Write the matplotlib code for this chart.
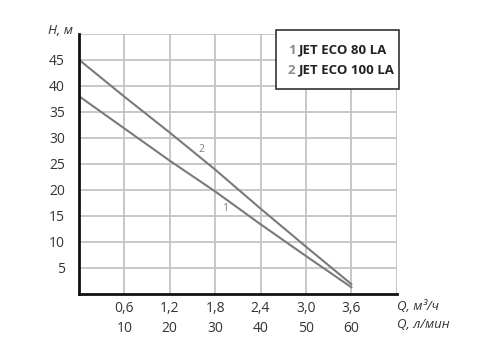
import matplotlib
matplotlib.use("Agg")
import matplotlib.pyplot as plt
from matplotlib.patches import Rectangle

plt.rcParams['font.family'] = ['Open Sans', 'DejaVu Sans']

q_m3h = [0.0, 0.6, 1.2, 1.8, 2.4, 3.0, 3.6]
head_80 = [38.0, 31.8, 25.6, 19.7, 13.4, 7.3, 1.3]
head_100 = [45.0, 37.9, 31.0, 23.9, 16.4, 9.1, 1.9]
x_ticks = [0.6, 1.2, 1.8, 2.4, 3.0, 3.6]
x_labels_m3h = ["0,6", "1,2", "1,8", "2,4", "3,0", "3,6"]
x_labels_lmin = ["10", "20", "30", "40", "50", "60"]
y_ticks = [5, 10, 15, 20, 25, 30, 35, 40, 45]
legend_names = ["JET ECO 80 LA", "JET ECO 100 LA"]

fig = plt.figure(figsize=(4.93, 3.41), dpi=100)
ax = fig.add_axes([0.1602, 0.1378, 0.8047 - 0.1602, 0.9012 - 0.1378])

ax.set_xlim(0, 4.2)
ax.set_ylim(0, 50)

grid_c = '#c4c4c4'
for xv in x_ticks + [4.2]:
    ax.axvline(xv, color=grid_c, lw=1.3, zorder=1)
for yv in y_ticks + [50]:
    ax.axhline(yv, color=grid_c, lw=1.3, zorder=1)

line_c = '#7a7a7a'
ax.plot(q_m3h, head_80, color=line_c, lw=1.5, zorder=3)
ax.plot(q_m3h, head_100, color=line_c, lw=1.5, zorder=3)

ax.text(1.625, 27.8, "2", color='#808080', fontsize=7.5, ha='center', va='center')
ax.text(1.925, 16.5, "1", color='#808080', fontsize=7.5, ha='center', va='center')

for s in ['top', 'right']:
    ax.spines[s].set_visible(False)
for s in ['left', 'bottom']:
    ax.spines[s].set_color('#111111')
    ax.spines[s].set_linewidth(2.0)
    ax.spines[s].set_zorder(4)

ax.set_xticks(x_ticks)
ax.set_xticklabels([a + "\n" + b for a, b in zip(x_labels_m3h, x_labels_lmin)],
                   fontsize=10, color='#333333', linespacing=1.45)
ax.set_yticks(y_ticks)
ax.set_yticklabels([str(v) for v in y_ticks], fontsize=10, color='#333333')
ax.tick_params(axis='both', length=0)
ax.tick_params(axis='y', pad=10)
ax.tick_params(axis='x', pad=5)

fig.text(48 / 493, 1 - 30 / 341, "H, м", fontsize=9.5, style='italic',
         color='#333333', ha='left', va='center')
fig.text(397 / 493, 1 - 307 / 341, "Q, м³/ч", fontsize=9.5, style='italic',
         color='#333333', ha='left', va='center')
fig.text(397 / 493, 1 - 325 / 341, "Q, л/мин", fontsize=9.5, style='italic',
         color='#333333', ha='left', va='center')

# legend box
bx0, bx1, by0, by1 = 276, 399, 30, 89
fig.patches.append(Rectangle((bx0 / 493, 1 - by1 / 341), (bx1 - bx0) / 493,
                             (by1 - by0) / 341, transform=fig.transFigure,
                             facecolor='white', edgecolor='#333333', lw=1.2,
                             zorder=5))
for i, (name, yy) in enumerate(zip(legend_names, [50, 70])):
    fig.text(288 / 493, 1 - yy / 341, str(i + 1), fontsize=9.5,
             color='#8a8a8a', fontweight='bold', ha='left', va='center', zorder=6)
    fig.text(299 / 493, 1 - yy / 341, name, fontsize=9.5,
             color='#222222', fontweight='bold', ha='left', va='center', zorder=6)

fig.savefig('out.png', dpi=100, facecolor='white')
